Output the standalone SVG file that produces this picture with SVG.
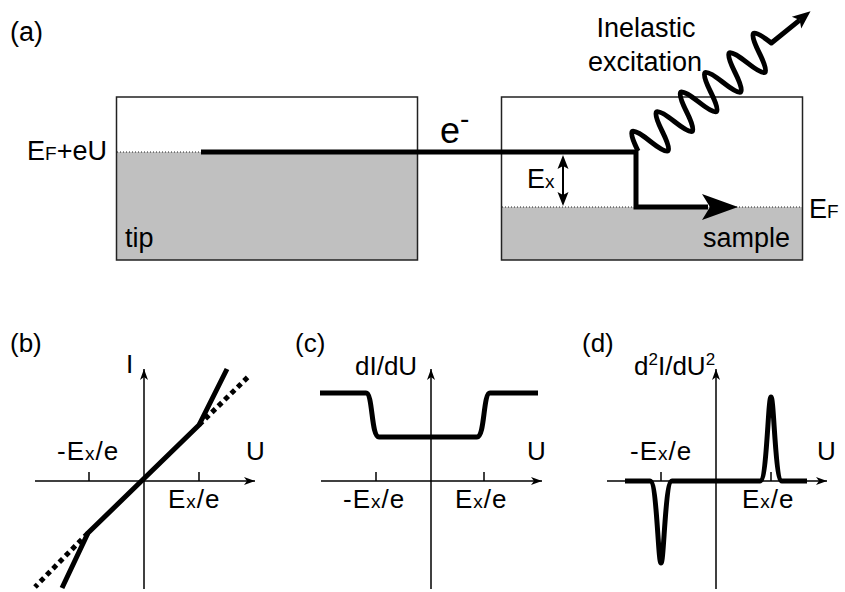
<svg xmlns="http://www.w3.org/2000/svg" width="845" height="592" viewBox="0 0 845 592">
<style>
text{font-family:"Liberation Sans",Arial,sans-serif;fill:#000}
.ta{font-size:27px}
.tb{font-size:26px}
.lbl{letter-spacing:1px}
.sub{font-size:19px}
.box{fill:none;stroke:#222;stroke-width:1.5}
.fill{fill:#c0c0c0}
.dot{stroke:#222;stroke-width:1;stroke-dasharray:1,2;fill:none}
.thick{fill:none;stroke:#000;stroke-width:5}
.axis{fill:none;stroke:#000;stroke-width:1.5}
.tick{stroke:#000;stroke-width:1.5}
</style>
<defs>
<marker id="ah" markerUnits="userSpaceOnUse" markerWidth="12" markerHeight="10" refX="11" refY="5" orient="auto">
<path d="M0,1 L11,5 L0,9 L3,5 Z" fill="#000"/>
</marker>
</defs>

<!-- Panel (a) -->
<g id="panel-a">
<text class="ta" x="10" y="41">(a)</text>
<g id="tip">
<rect class="fill" x="116.5" y="152" width="301" height="108"/>
<line class="dot" x1="117" y1="152" x2="202" y2="152"/>
<rect class="box" x="116.5" y="97" width="301" height="163"/>
<text class="ta" x="125" y="247">tip</text>
</g>
<g id="sample">
<rect class="fill" x="501.5" y="207" width="301" height="53"/>
<line class="dot" x1="502" y1="207" x2="802" y2="207"/>
<rect class="box" x="501.5" y="97" width="301" height="163"/>
<text class="ta" x="746.5" y="247" text-anchor="middle">sample</text>
</g>
<text class="ta" x="27" y="160">E<tspan class="sub">F</tspan>+eU</text>
<text class="ta" x="809" y="218">E<tspan class="sub">F</tspan></text>
<text x="440" y="143" style="font-size:36px">e<tspan style="font-size:28px" dy="-15">-</tspan></text>
<text x="527" y="188" style="font-size:27px">E<tspan class="sub">x</tspan></text>
<text class="ta" x="646" y="37" text-anchor="middle">Inelastic</text>
<text class="ta" x="645" y="71" text-anchor="middle">excitation</text>
</g>

<g id="connectors">
<!-- electron path -->
<path class="thick" d="M201,152 L636,152 L636,207 L708,207" stroke-linejoin="miter"/>
<polygon points="738,207 702,194 710,207 702,220" fill="#000"/>
<!-- Ex double arrow -->
<line x1="563" y1="164" x2="563" y2="198" stroke="#000" stroke-width="2"/>
<polygon points="563,155 557.5,169 563,166 568.5,169" fill="#000"/>
<polygon points="563,206 557.5,192 563,195 568.5,192" fill="#000"/>
<!-- inelastic excitation wave -->
<g transform="translate(638,151) rotate(-39)">
<path fill="none" stroke="#000" stroke-width="5" stroke-linejoin="round" d="M0,0
c5.6,-25 10,-25 15.6,0 c5.6,25 10,25 15.6,0
c5.6,-25 10,-25 15.6,0 c5.6,25 10,25 15.6,0
c5.6,-25 10,-25 15.6,0 c5.6,25 10,25 15.6,0
c5.6,-25 10,-25 15.6,0 c5.6,25 10,25 15.6,0
c5.6,-25 10,-25 15.6,0 c5.6,25 10,25 15.6,0
c5.6,-25 10,-25 15.6,0 L208,0"/>
<polygon points="222,0 204,-7.5 208,0 204,7.5" fill="#000"/>
</g>
</g>

<!-- Panel (b) -->
<g id="panel-b">
<text class="tb" x="10" y="352">(b)</text>
<line class="axis" x1="35" y1="481" x2="255" y2="481" marker-end="url(#ah)"/>
<line class="axis" x1="144" y1="589" x2="144" y2="369" marker-end="url(#ah)"/>
<line class="tick" x1="89" y1="472" x2="89" y2="481"/>
<line class="tick" x1="199" y1="472" x2="199" y2="481"/>
<path class="thick" d="M62,588 L88,533 L199,425 L227,369"/>
<path class="thick" d="M199,425 L249,376 M88,533 L35,587" stroke-dasharray="5,4"/>
<text class="tb" x="126" y="373">I</text>
<text class="tb" x="246" y="460">U</text>
<text class="tb lbl" x="57" y="460">-E<tspan class="sub">x</tspan>/e</text>
<text class="tb lbl" x="168" y="508">E<tspan class="sub">x</tspan>/e</text>
</g>

<!-- Panel (c) -->
<g id="panel-c">
<text class="tb" x="295" y="352">(c)</text>
<line class="axis" x1="321" y1="481" x2="542" y2="481" marker-end="url(#ah)"/>
<line class="axis" x1="431" y1="589" x2="431" y2="369" marker-end="url(#ah)"/>
<line class="tick" x1="376" y1="472" x2="376" y2="481"/>
<line class="tick" x1="484" y1="472" x2="484" y2="481"/>
<path class="thick" d="M320,393 L366,393 C373,393 371,437 379,437 L477,437 C485,437 483,393 490,393 L538,393"/>
<text class="tb" x="355" y="375">dI/dU</text>
<text class="tb" x="527" y="460">U</text>
<text class="tb lbl" x="343" y="508">-E<tspan class="sub">x</tspan>/e</text>
<text class="tb lbl" x="455" y="508">E<tspan class="sub">x</tspan>/e</text>
</g>

<!-- Panel (d) -->
<g id="panel-d">
<text class="tb" x="582" y="352">(d)</text>
<line class="axis" x1="607" y1="481" x2="827" y2="481" marker-end="url(#ah)"/>
<line class="axis" x1="716" y1="589" x2="716" y2="369" marker-end="url(#ah)"/>
<line class="tick" x1="661" y1="472" x2="661" y2="481"/>
<line class="tick" x1="771" y1="472" x2="771" y2="481"/>
<path class="thick" stroke-linejoin="round" d="M625,481 L650,481 C657,481 658,563 661,563 C664,563 665,481 672,481 L760,481 C767,481 768,397 771,397 C774,397 775,481 782,481 L807,481"/>
<text class="tb" x="634" y="375">d<tspan font-size="17" dy="-10">2</tspan><tspan dy="10">I/dU</tspan><tspan font-size="17" dy="-10">2</tspan></text>
<text class="tb" x="817" y="460">U</text>
<text class="tb lbl" x="630" y="460">-E<tspan class="sub">x</tspan>/e</text>
<text class="tb lbl" x="742" y="508">E<tspan class="sub">x</tspan>/e</text>
</g>
</svg>
